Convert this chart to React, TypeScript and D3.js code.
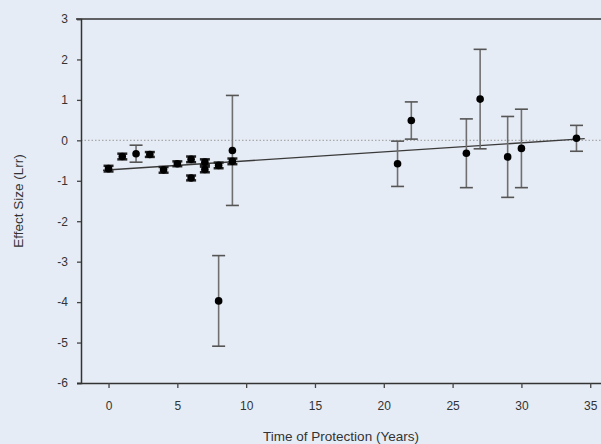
import { useEffect, useRef } from 'react';
import * as d3 from 'd3';

const W = 601;
const H = 444;
const MARGIN = { top: 19, right: -3, bottom: 61, left: 81 };
const FONT = 'Liberation Sans, Arial, sans-serif';

// Time of protection (years), effect size (Lrr) and half-width of the error bar
const years = [0, 1, 2, 3, 4, 5, 6, 6, 7, 7, 8, 9, 9, 8, 21, 22, 26, 27, 29, 30, 34];
const effect = [-0.7, -0.4, -0.33, -0.35, -0.73, -0.58, -0.47, -0.93, -0.54, -0.72, -0.62, -0.25, -0.52, -3.97, -0.58, 0.49, -0.32, 1.02, -0.41, -0.2, 0.05];
const errs = [0.07, 0.07, 0.21, 0.06, 0.07, 0.06, 0.07, 0.06, 0.07, 0.07, 0.07, 1.36, 0.07, 1.12, 0.56, 0.46, 0.85, 1.23, 1.0, 0.97, 0.32];

const xTicks = [0, 5, 10, 15, 20, 25, 30, 35];
const yTicks = [3, 2, 1, 0, -1, -2, -3, -4, -5, -6];

// fitted regression line (start, end)
const fitX = [-0.4, 34.6];
const fitY = [-0.74, 0.04];

export default function App() {
  const svgRef = useRef<SVGSVGElement>(null);

  useEffect(() => {
    document.body.style.margin = '0';
    const svg = d3.select(svgRef.current);
    svg.selectAll('*').remove();

    const x = d3.scaleLinear().domain([-2, 36]).range([MARGIN.left, W - MARGIN.right]);
    const y = d3.scaleLinear().domain([-6, 3]).range([H - MARGIN.bottom, MARGIN.top]);

    svg.append('rect').attr('width', W).attr('height', H).attr('fill', '#e6ecf5');

    // zero reference line
    svg.append('line')
      .attr('x1', MARGIN.left).attr('x2', W)
      .attr('y1', y(0)).attr('y2', y(0))
      .attr('stroke', '#a9a9a9').attr('stroke-width', 1.3).attr('stroke-dasharray', '1.5,2');

    // regression line
    svg.append('line')
      .attr('x1', x(fitX[0])).attr('x2', x(fitX[1]))
      .attr('y1', y(fitY[0])).attr('y2', y(fitY[1]))
      .attr('stroke', '#3a3a3a').attr('stroke-width', 1.3);

    // frame top
    svg.append('line')
      .attr('x1', MARGIN.left - 5).attr('x2', W)
      .attr('y1', MARGIN.top).attr('y2', MARGIN.top)
      .attr('stroke', '#333').attr('stroke-width', 1.5);

    // axes
    const fmt = (d: d3.NumberValue) => String(d);
    const yAxis = svg.append('g')
      .attr('transform', `translate(${MARGIN.left},0)`)
      .call(d3.axisLeft(y).tickValues(yTicks).tickSize(4).tickPadding(9).tickFormat(fmt));
    const xAxis = svg.append('g')
      .attr('transform', `translate(0,${H - MARGIN.bottom})`)
      .call(d3.axisBottom(x).tickValues(xTicks).tickSize(5).tickPadding(13).tickFormat(fmt));
    [yAxis, xAxis].forEach(a => {
      a.select('.domain').attr('stroke', '#333').attr('stroke-width', 1.5);
      a.selectAll('.tick line').attr('stroke', '#444').attr('stroke-width', 1.3);
      a.selectAll('text')
        .attr('fill', '#333')
        .style('font-size', '12px')
        .style('font-family', FONT);
    });
    xAxis.select('.domain').attr('d', `M${MARGIN.left - 4},0.5H${W}`);

    // error bars
    const idx = d3.range(years.length);
    const bars = svg.append('g');
    idx.forEach(i => {
      const cx = x(years[i]);
      const big = errs[i] > 0.15;
      const cw = big ? 6.5 : 5;
      const col = big ? '#6f6f6f' : '#222';
      bars.append('line')
        .attr('x1', cx).attr('x2', cx)
        .attr('y1', y(effect[i] + errs[i])).attr('y2', y(effect[i] - errs[i]))
        .attr('stroke', col).attr('stroke-width', big ? 1.6 : 2);
      [effect[i] + errs[i], effect[i] - errs[i]].forEach(v => {
        bars.append('line')
          .attr('x1', cx - cw).attr('x2', cx + cw)
          .attr('y1', y(v)).attr('y2', y(v))
          .attr('stroke', big ? '#555' : '#222').attr('stroke-width', big ? 1.6 : 2.5);
      });
    });

    // points
    svg.append('g').selectAll('circle')
      .data(idx)
      .join('circle')
      .attr('cx', i => x(years[i]))
      .attr('cy', i => y(effect[i]))
      .attr('r', 3.8)
      .attr('fill', '#000');

    // titles
    svg.append('text')
      .attr('x', (MARGIN.left + W) / 2).attr('y', 441)
      .attr('text-anchor', 'middle')
      .attr('fill', '#333')
      .style('font-size', '13.5px')
      .style('font-family', FONT)
      .text('Time of Protection (Years)');
    svg.append('text')
      .attr('transform', `translate(23,${(MARGIN.top + H - MARGIN.bottom) / 2}) rotate(-90)`)
      .attr('text-anchor', 'middle')
      .attr('fill', '#333')
      .style('font-size', '13.5px')
      .style('font-family', FONT)
      .text('Effect Size (Lrr)');
  }, []);

  return (
    <div style={{ position: 'absolute', left: 0, top: 0 }}>
      <svg ref={svgRef} width={W} height={H} style={{ display: 'block' }} />
    </div>
  );
}
